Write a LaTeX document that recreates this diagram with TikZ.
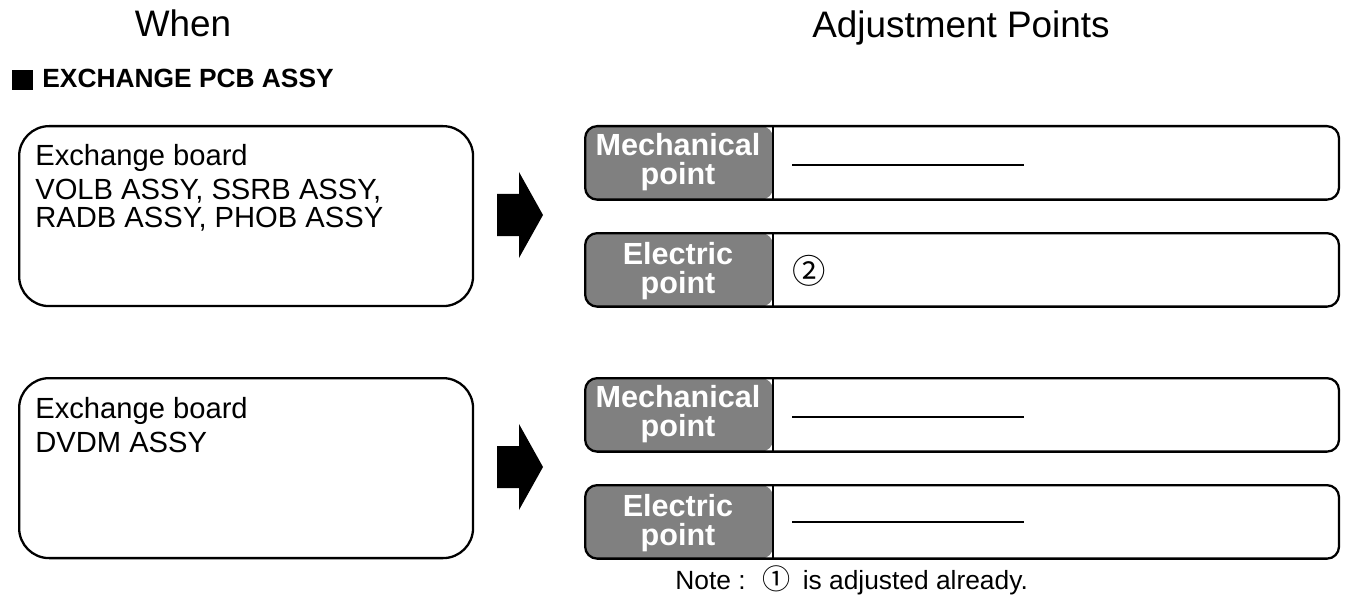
\documentclass[tikz,border=0pt]{standalone}
\usepackage{fontspec}
\setmainfont{Liberation Sans}
\newfontfamily\symfont{Noto Sans CJK SC}
\usetikzlibrary{positioning}

\tikzset{
  boardbox/.style={draw, line width=1.3pt, rounded corners=0.6cm,
    minimum width=9.08cm, minimum height=3.6cm, anchor=north west, inner sep=0pt},
  pointbox/.style={draw, line width=1.3pt, rounded corners=0.24cm,
    minimum width=15.08cm, minimum height=1.47cm, anchor=north west, inner sep=0pt,
    path picture={
      \fill[gray] (path picture bounding box.north west) rectangle
        ([xshift=3.76cm]path picture bounding box.south west);
      \draw[line width=1.3pt] ([xshift=3.76cm]path picture bounding box.north west) --
        ([xshift=3.76cm]path picture bounding box.south west);
    }},
  pointlabel/.style={text=white, font=\bfseries\fontsize{17.4}{16.2}\selectfont,
    align=center, inner sep=0pt},
  bodytext/.style={font=\fontsize{16.6}{19}\selectfont, anchor=base west, inner sep=0pt},
  blank/.style={line width=1.1pt}
}

\begin{document}
\begin{tikzpicture}[x=0.02cm, y=-0.02cm]
    \useasboundingbox (0,0) rectangle (1348,601);

    % titles
    \node[font=\fontsize{21}{24}\selectfont, anchor=base, inner sep=0pt] (when) at (183,37) {When};
    \node[font=\fontsize{21}{24}\selectfont, anchor=base, inner sep=0pt] (adjust) at (961,38) {Adjustment Points};

    % heading
    \fill (12,70) rectangle (33,90);
    \node[font=\bfseries\fontsize{15}{18}\selectfont, anchor=base west, inner sep=0pt] (head) at (42,88) {EXCHANGE PCB ASSY};

    % first group: left side
    \node[boardbox] (board1) at (18,125) {};
    \node[bodytext] (ex1) at (35,166) {Exchange board};
    \node[bodytext] (list1a) at (35,200) {VOLB ASSY, SSRB ASSY,};
    \node[bodytext] (list1b) at (35,228) {RADB ASSY, PHOB ASSY};

    % first group: arrow
    \coordinate (arr1) at (497,215);
    \fill (arr1) ++(0,-21) -- ++(22,0) -- ++(0,-22) -- ++(24,43) -- ++(-24,43) -- ++(0,-22) -- ++(-22,0) -- cycle;

    % first group: right side
    \node[pointbox] (mech1) at (584,125) {};
    \node[pointlabel] (mech1lbl) at (678,162) {Mechanical\\point};
    \draw[blank] (792,165) -- (1024,165);

    \node[pointbox] (elec1) at (584,232) {};
    \node[pointlabel] (elec1lbl) at (678,271) {Electric\\point};
    \node[font=\symfont\fontsize{19}{21}\selectfont, inner sep=0pt] (two) at (809,271) {②};

    % second group: left side
    \node[boardbox] (board2) at (18,377) {};
    \node[bodytext] (ex2) at (35,418) {Exchange board};
    \node[bodytext] (list2) at (35,452) {DVDM ASSY};

    % second group: arrow
    \coordinate (arr2) at (497,467);
    \fill (arr2) ++(0,-21) -- ++(22,0) -- ++(0,-22) -- ++(24,43) -- ++(-24,43) -- ++(0,-22) -- ++(-22,0) -- cycle;

    % second group: right side
    \node[pointbox] (mech2) at (584,377) {};
    \node[pointlabel] (mech2lbl) at (678,414) {Mechanical\\point};
    \draw[blank] (792,417) -- (1024,417);

    \node[pointbox] (elec2) at (584,484) {};
    \node[pointlabel] (elec2lbl) at (678,523) {Electric\\point};
    \draw[blank] (792,522) -- (1024,522);

    % note
    \node[font=\fontsize{15}{18}\selectfont, anchor=base west, inner sep=0pt] (note) at (675,589)
      {Note :\hspace{0.65em}{\symfont\fontsize{16}{18}\selectfont ①}\hspace{0.45em}is adjusted already.};
\end{tikzpicture}
\end{document}
